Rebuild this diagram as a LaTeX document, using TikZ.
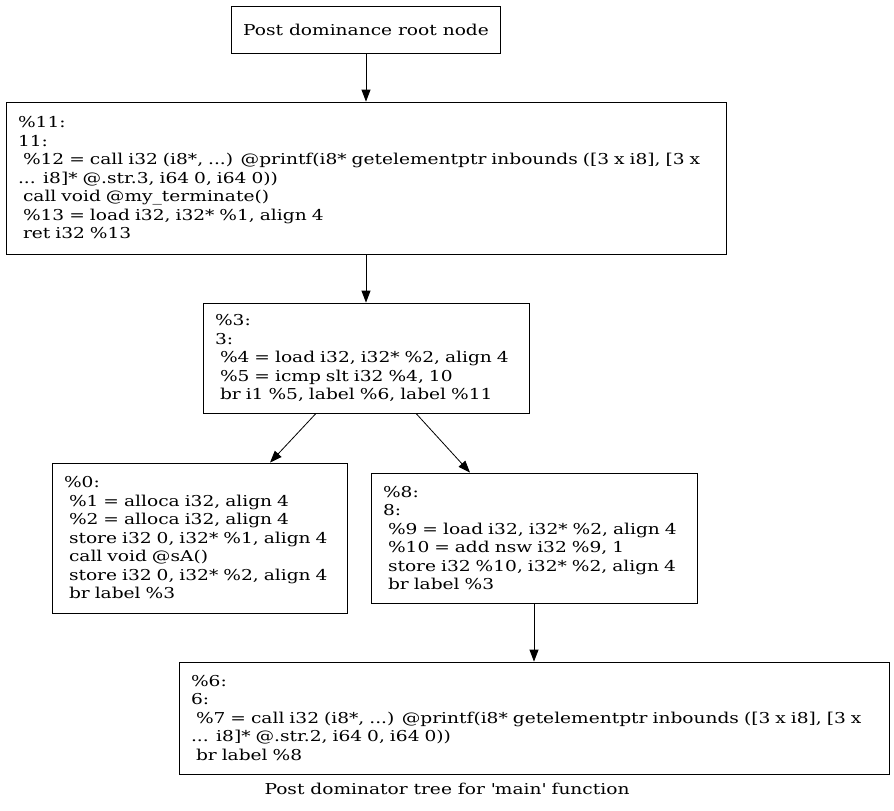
\documentclass[tikz,border=0pt]{standalone}
\usepackage{fontspec}
\setmainfont[FakeStretch=1.24]{DejaVu Serif}
\usetikzlibrary{arrows.meta}
\begin{document}
\begin{tikzpicture}[x=1pt,y=-1pt,
  box/.style={draw, line width=0.8pt, rectangle, inner xsep=12pt, inner ysep=0pt, align=left,
    font=\fontsize{15}{18.5}\selectfont},
  edge/.style={-{Triangle[length=12pt,width=9pt]}, line width=0.8pt}]
\useasboundingbox (0,0) rectangle (894,811);
\node[box, align=center, minimum width=268pt, minimum height=47pt] (root) at (366,29.5) {Post dominance root node};
\node[box, text width=696pt, minimum height=152pt] (n11) at (366,178) {%
\%11:\\11:\\
\ \%12 = call i32 (i8*, ...) @printf(i8* getelementptr inbounds ([3 x i8], [3 x\\
... i8]* @.str.3, i64 0, i64 0))\\
\ call void @my\_terminate()\\
\ \%13 = load i32, i32* \%1, align 4\\
\ ret i32 \%13};
\node[box, text width=302pt, minimum height=110pt] (n3) at (366,358) {%
\%3:\\3:\\
\ \%4 = load i32, i32* \%2, align 4\\
\ \%5 = icmp slt i32 \%4, 10\\
\ br i1 \%5, label \%6, label \%11};
\node[box, text width=271pt, minimum height=150pt] (n0) at (199.5,538) {%
\%0:\\
\ \%1 = alloca i32, align 4\\
\ \%2 = alloca i32, align 4\\
\ store i32 0, i32* \%1, align 4\\
\ call void @sA()\\
\ store i32 0, i32* \%2, align 4\\
\ br label \%3};
\node[box, text width=302pt, minimum height=130pt] (n8) at (534,538) {%
\%8:\\8:\\
\ \%9 = load i32, i32* \%2, align 4\\
\ \%10 = add nsw i32 \%9, 1\\
\ store i32 \%10, i32* \%2, align 4\\
\ br label \%3};
\node[box, text width=686pt, minimum height=112pt] (n6) at (534,718) {%
\%6:\\6:\\
\ \%7 = call i32 (i8*, ...) @printf(i8* getelementptr inbounds ([3 x i8], [3 x\\
... i8]* @.str.2, i64 0, i64 0))\\
\ br label \%8};
\node[font=\fontsize{15}{18.5}\selectfont] (cap) at (447,789) {Post dominator tree for \textquotesingle main\textquotesingle{} function};
\draw[edge] (root.south) -- (n11.north);
\draw[edge] (n11.south) -- (n3.north);
\draw[edge] ([xshift=-50pt]n3.south) -- ([xshift=70.5pt]n0.north);
\draw[edge] ([xshift=50pt]n3.south) -- ([xshift=-64pt]n8.north);
\draw[edge] (n8.south) -- (n6.north);
\end{tikzpicture}
\end{document}
